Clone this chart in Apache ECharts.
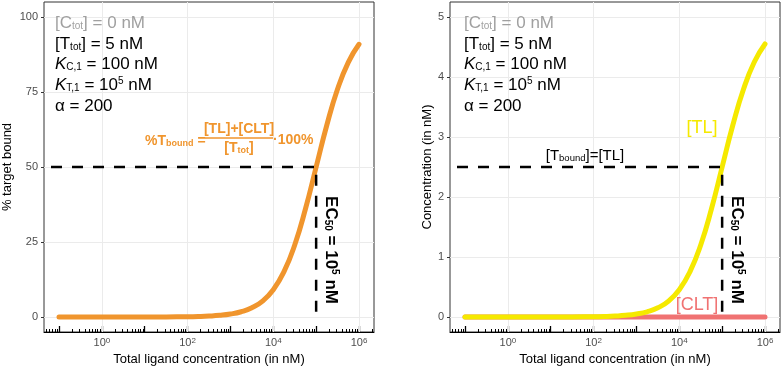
<!DOCTYPE html>
<html>
<head>
<meta charset="utf-8">
<script src="https://cdn.jsdelivr.net/npm/echarts@6/dist/echarts.min.js"></script>
<style>
  html, body { margin: 0; padding: 0; background: #fff; }
  #chart { width: 784px; height: 371px; }
</style>
</head>
<body>
<div id="chart"></div>
<script>
// total ligand concentration (nM)
const concentration = [0.1, 0.316, 1, 3.16, 10, 31.6, 100, 178, 316, 562, 1000, 1778, 3162, 5623, 10000, 17783, 31623, 56234, 100000, 177828, 316228, 562341, 1000000];
// left panel: % target bound
const pctBound = [0, 0, 0, 0, 0.01, 0.03, 0.1, 0.18, 0.32, 0.56, 0.99, 1.75, 3.07, 5.32, 9.09, 15.1, 24.0, 36.0, 50.0, 64.0, 76.0, 84.9, 90.9];
// right panel: [TL] and [CLT] (nM)
const tlConc = [0, 0, 0, 0, 0, 0.002, 0.005, 0.009, 0.016, 0.028, 0.05, 0.087, 0.153, 0.266, 0.455, 0.755, 1.20, 1.80, 2.50, 3.20, 3.80, 4.25, 4.55];
const cltConc = [0, 0, 0, 0, 0, 0, 0, 0, 0, 0, 0, 0, 0, 0, 0, 0, 0, 0, 0, 0, 0, 0, 0];

// EC50 guide lines
const dashStart = 0.065;
const ec50 = 100000;
const halfPct = 50;
const halfTL = 2.5;

// ticks
const xTickExponents = [0, 2, 4, 6];
const yTicksLeft = [0, 25, 50, 75, 100];
const yTicksRight = [0, 1, 2, 3, 4, 5];

const FONT = '"Liberation Sans", Arial, sans-serif';
const ORANGE = '#F0952D';
const YELLOW = '#F5E900';
const SALMON = '#F07272';
const GRIDLINE = '#EBEBEB';
const xMin = -1.35, xMax = 6.35;

const lg = v => Math.log10(v);
const pairs = (xs, ys) => xs.map((x, i) => [lg(x), ys[i]]);

// log ticks along the bottom (annotation_logticks style)
const majorTicks = [], minorTicks = [];
for (let n = -2; n <= 6; n++) {
  if (n >= xMin && n <= xMax) majorTicks.push(n);
  for (let k = 2; k <= 9; k++) {
    const e = n + Math.log10(k);
    if (e >= xMin && e <= xMax) minorTicks.push(e);
  }
}

const chart = echarts.init(document.getElementById('chart'));

function xAxesFor(gi) {
  return [
    {
      gridIndex: gi, type: 'value', min: xMin, max: xMax, position: 'bottom',
      name: 'Total ligand concentration (in nM)', nameLocation: 'middle', nameGap: 20,
      nameTextStyle: { color: '#000', fontSize: 13, fontFamily: FONT },
      axisLine: { show: true, onZero: false, lineStyle: { color: '#000', width: 1 } },
      axisTick: { show: true, inside: true, length: 6, customValues: majorTicks, lineStyle: { color: '#000', width: 1.3 } },
      axisLabel: {
        customValues: xTickExponents, margin: 5,
        formatter: v => '{b|10}{p|' + Math.round(v) + '}',
        rich: {
          b: { fontSize: 11, color: '#4D4D4D', fontFamily: FONT },
          p: { fontSize: 8, color: '#4D4D4D', fontFamily: FONT, verticalAlign: 'top', lineHeight: 8 }
        }
      },
      splitLine: { show: false }
    },
    {
      gridIndex: gi, type: 'value', min: xMin, max: xMax, position: 'bottom',
      axisLine: { show: false, onZero: false },
      axisTick: { show: true, inside: true, length: 3, customValues: minorTicks, lineStyle: { color: '#000', width: 1 } },
      axisLabel: { show: false },
      splitLine: { show: false }
    }
  ];
}

function yAxisFor(gi, min, max, ticks, name, gap) {
  return {
    gridIndex: gi, type: 'value', min: min, max: max,
    name: name, nameLocation: 'middle', nameGap: gap,
    nameTextStyle: { color: '#000', fontSize: 13, fontFamily: FONT },
    axisLine: { show: false, onZero: false },
    axisTick: { show: true, length: 3, customValues: ticks, lineStyle: { color: '#333' } },
    axisLabel: { customValues: ticks, color: '#4D4D4D', fontSize: 11, fontFamily: FONT, margin: 6 },
    splitLine: { show: false }
  };
}

function gridSeries(xi, yi, yTicks) {
  return {
    type: 'line', xAxisIndex: xi, yAxisIndex: yi, data: [], z: 1, silent: true,
    markLine: {
      z: 1, silent: true, symbol: 'none', label: { show: false },
      lineStyle: { color: GRIDLINE, width: 1, type: 'solid' },
      data: xTickExponents.map(e => ({ xAxis: e })).concat(yTicks.map(t => ({ yAxis: t })))
    }
  };
}

function curve(xi, yi, ys, color) {
  return {
    type: 'line', xAxisIndex: xi, yAxisIndex: yi, z: 3, symbol: 'none',
    smooth: 0.5,
    lineStyle: { color: color, width: 5, cap: 'round' },
    data: pairs(concentration, ys)
  };
}

function guide(xi, yi, half) {
  return {
    type: 'line', xAxisIndex: xi, yAxisIndex: yi, z: 4, symbol: 'none',
    lineStyle: { color: '#000', width: 2.5, type: [11, 10] },
    data: [[lg(dashStart), half], [lg(ec50), half], [lg(ec50), 0]]
  };
}

const tok = (size, color, extra) => Object.assign({ fontSize: size, fill: color, fontFamily: FONT }, extra || {});
const SUB = { verticalAlign: 'bottom', lineHeight: 10 };
const SUP = { verticalAlign: 'top', lineHeight: 10 };

function infoBlock(x) {
  const rich = {
    g: tok(17, '#A0A0A0'), gs: tok(10, '#A0A0A0', SUB),
    n: tok(17, '#000'), s: tok(10, '#000', SUB), p: tok(10, '#000', SUP),
    i: tok(17, '#000', { fontStyle: 'italic' })
  };
  const lines = [
    ['{g|[C}{gs|tot}{g|] = 0 nM}', 23],
    ['{n|[T}{s|tot}{n|] = 5 nM}', 44],
    ['{i|K}{s|C,1}{n| = 100 nM}', 64],
    ['{i|K}{s|T,1}{n| = 10}{p|5}{n| nM}', 85],
    ['{n|α = 200}', 106]
  ];
  return lines.map(l => ({
    type: 'text', x: x, y: l[1], z: 10,
    style: { text: l[0], rich: rich, align: 'left', verticalAlign: 'middle' }
  }));
}

function ec50Label(x) {
  return {
    type: 'text', x: x, y: 250, rotation: -Math.PI / 2, z: 10,
    style: {
      text: '{b|EC}{s|50}{b| = 10}{p|5}{b| nM}', align: 'center', verticalAlign: 'middle',
      rich: {
        b: tok(17, '#000', { fontWeight: 'bold' }),
        s: tok(10, '#000', Object.assign({ fontWeight: 'bold' }, SUB)),
        p: tok(10, '#000', Object.assign({ fontWeight: 'bold' }, SUP))
      }
    }
  };
}

const oRich = {
  o: tok(14, ORANGE, { fontWeight: 'bold' }),
  os: tok(9, ORANGE, Object.assign({ fontWeight: 'bold' }, SUB))
};

const graphics = [].concat(
  infoBlock(55),
  infoBlock(464),
  [
    ec50Label(331),
    ec50Label(737),
    { type: 'text', x: 145, y: 141, z: 10, style: { text: '{o|%T}{os|bound}{o| =}', rich: oRich, align: 'left', verticalAlign: 'middle' } },
    { type: 'text', x: 239, y: 129, z: 10, style: { text: '{o|[TL]+[CLT]}', rich: oRich, align: 'center', verticalAlign: 'middle' } },
    { type: 'line', z: 10, shape: { x1: 205, y1: 138, x2: 273, y2: 138 }, style: { stroke: ORANGE, lineWidth: 1.5 } },
    { type: 'text', x: 239, y: 148, z: 10, style: { text: '{o|[T}{os|tot}{o|]}', rich: oRich, align: 'center', verticalAlign: 'middle' } },
    { type: 'text', x: 273, y: 140, z: 10, style: { text: '{o|·100%}', rich: oRich, align: 'left', verticalAlign: 'middle' } },
    { type: 'text', x: 702, y: 128, z: 10, style: { text: '[TL]', fill: YELLOW, fontSize: 18, fontFamily: FONT, align: 'center', verticalAlign: 'middle' } },
    { type: 'text', x: 697, y: 305, z: 10, style: { text: '[CLT]', fill: SALMON, fontSize: 18, fontFamily: FONT, align: 'center', verticalAlign: 'middle' } },
    {
      type: 'text', x: 585, y: 156, z: 10,
      style: {
        text: '{n|[T}{s|bound}{n|]=[TL]}', align: 'center', verticalAlign: 'middle',
        rich: { n: tok(15, '#000'), s: tok(9.5, '#000', SUB) }
      }
    }
  ]
);

chart.setOption({
  animation: false,
  backgroundColor: '#fff',
  grid: [
    { left: 44, top: 2, width: 330, height: 330, show: true, borderColor: '#333', borderWidth: 1, backgroundColor: '#fff' },
    { left: 450, top: 2, width: 330, height: 330, show: true, borderColor: '#333', borderWidth: 1, backgroundColor: '#fff' }
  ],
  xAxis: xAxesFor(0).concat(xAxesFor(1)),
  yAxis: [
    yAxisFor(0, -5, 105, yTicksLeft, '% target bound', 30),
    yAxisFor(1, -0.25, 5.25, yTicksRight, 'Concentration (in nM)', 16)
  ],
  series: [
    gridSeries(0, 0, yTicksLeft),
    curve(0, 0, pctBound, ORANGE),
    guide(0, 0, halfPct),
    gridSeries(2, 1, yTicksRight),
    curve(2, 1, cltConc, SALMON),
    curve(2, 1, tlConc, YELLOW),
    guide(2, 1, halfTL)
  ],
  graphic: graphics
});
</script>
</body>
</html>
